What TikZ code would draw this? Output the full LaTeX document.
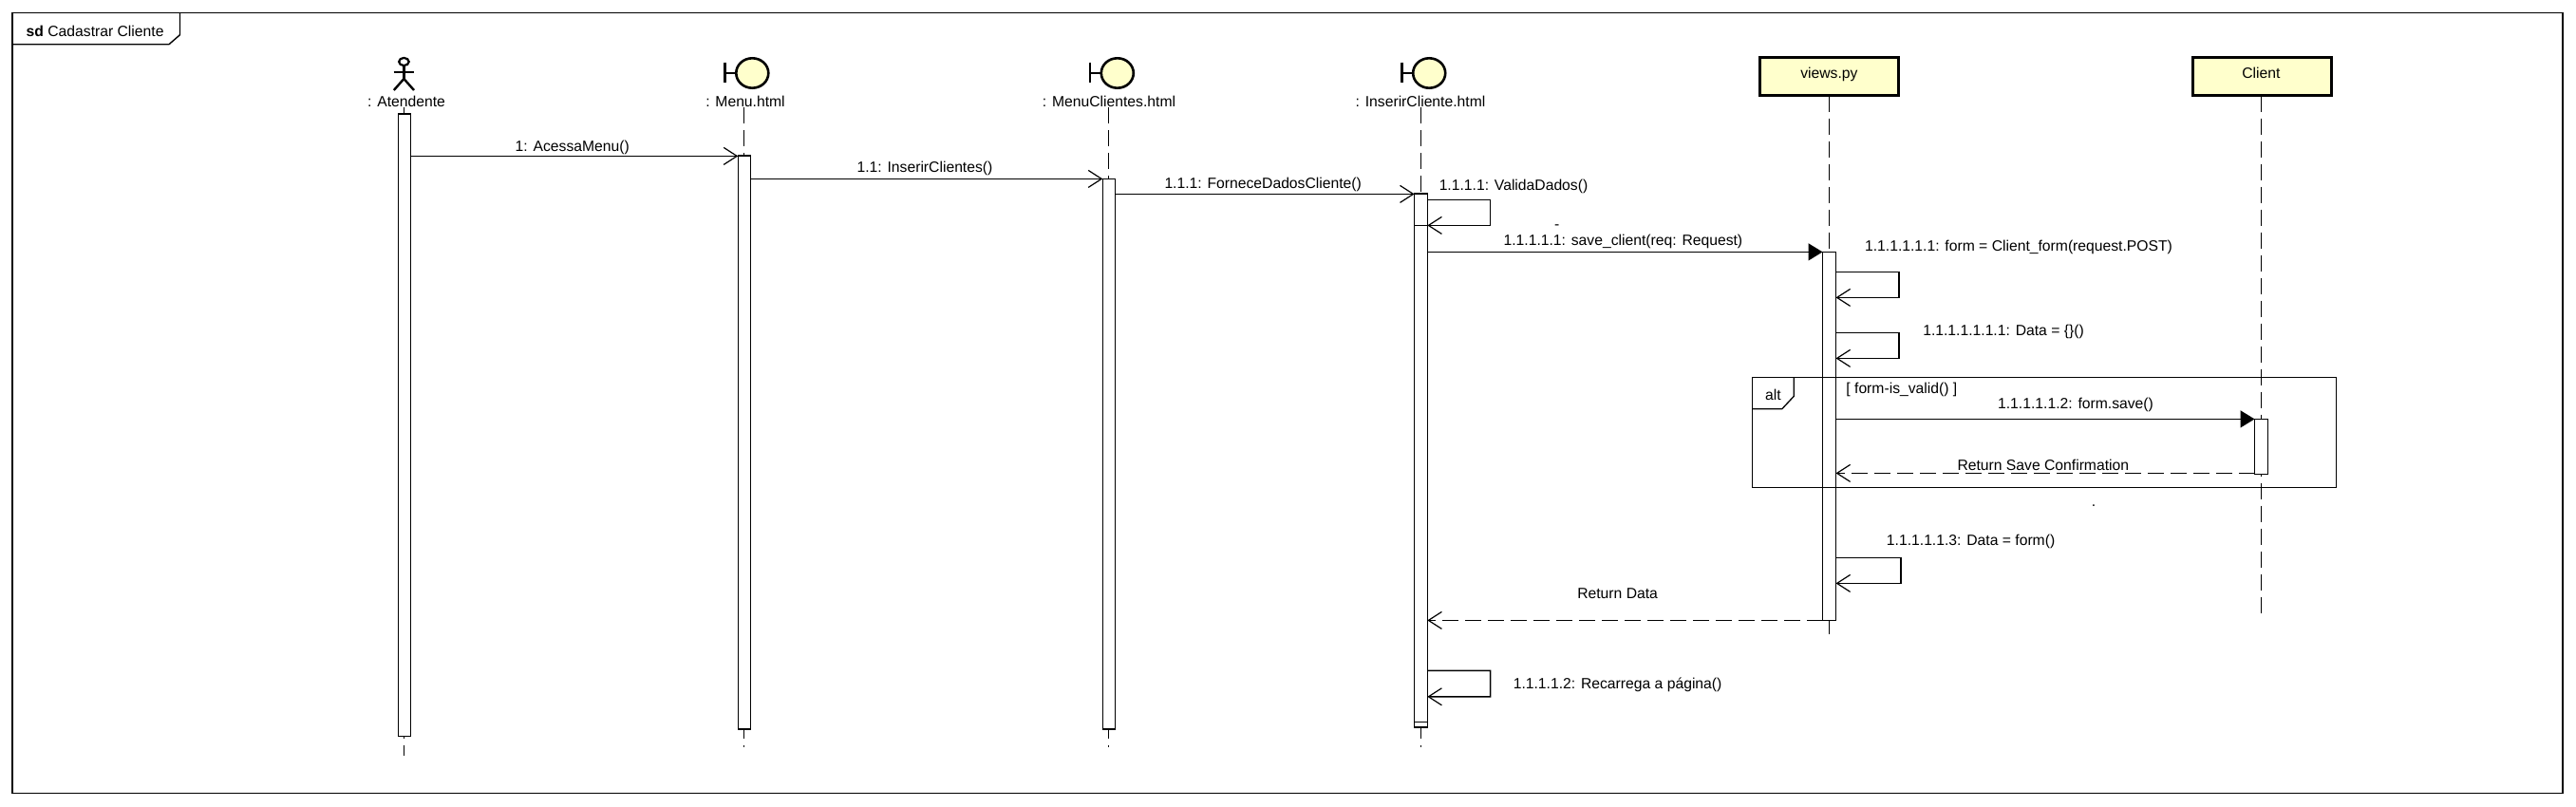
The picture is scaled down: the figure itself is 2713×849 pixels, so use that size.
\documentclass[tikz,border=0pt]{standalone}
\usepackage{fontspec}
\setmainfont{Liberation Sans}
\usetikzlibrary{arrows.meta,shapes.geometric}
\definecolor{uml}{HTML}{FFFFCC}
\tikzset{
  lbl/.style={inner sep=0pt,yshift=-1.2pt,font=\fontsize{15.7}{18}\selectfont,text=black},
  frameline/.style={draw=black,line width=1.4pt},
  life/.style={draw=black,line width=1.3pt,dash pattern=on 17pt off 7pt},
  barbox/.style={draw=black,fill=white,line width=1.4pt,inner sep=0pt,outer sep=0pt,rectangle},
  headbox/.style={draw=black,fill=uml,line width=3.2pt,inner sep=0pt,outer sep=0pt,rectangle,minimum width=146pt,minimum height=40pt},
  bcirc/.style={draw=black,fill=uml,line width=2.6pt,ellipse,inner sep=0pt,minimum width=34pt,minimum height=31.4pt,outer sep=0pt},
  bstem/.style={draw=black,line width=2.4pt},
  msg/.style={draw=black,line width=1.5pt,-{Straight Barb[length=14pt,width=18pt,line width=1.2pt]}},
  rmsg/.style={msg,dash pattern=on 17pt off 7pt},
  smsg/.style={draw=black,line width=1.5pt,-{Triangle[length=15pt,width=18pt,fill=black]}},
}
\newcommand{\actbar}[5]{\node[barbox,minimum width={#3-#2},minimum height={#5-#4}] (#1) at ({(#2+#3)/2},{(#4+#5)/2}) {};}
\newcommand{\boundary}[2]{%
  \node[bcirc] (c#1) at (#2+16.3,77) {};
  \draw[bstem] (c#1.west) -- ++(-11.8,0) coordinate (s#1);
  \draw[bstem] (s#1 |- 0,65.7) -- (s#1 |- 0,87.3);
}
\begin{document}
\begin{tikzpicture}[x=1pt,y=-1pt]
\useasboundingbox (0,0) rectangle (2713,849);
\fill[white] (0,0) rectangle (2713,849);

% outer frame
\draw[frameline] (13,13.7) rectangle (2699,835.5);
\draw[frameline] (13,46.7) -- (178,46.7) -- (189.5,36.7) -- (189.5,13.7);
\node[lbl,anchor=west] (title) at (27.5,32) {\textbf{sd} Cadastrar Cliente};

% actor
\node[draw=black,line width=2.2pt,ellipse,inner sep=0pt,minimum width=10.5pt,minimum height=8.1pt] (head) at (425.4,65) {};
\coordinate (hip) at (425.4,83);
\draw[bstem] (head.south) -- (hip);
\draw[bstem] (414.5,76) -- (436.3,76);
\draw[bstem] (414.8,95) -- (hip) -- (436,95);

% boundaries
\boundary{M}{776}
\boundary{C}{1160.5}
\boundary{I}{1488.9}

% heads
\node[headbox] (views) at (1926.7,80.5) {};
\node[headbox] (client) at (2382.1,80.5) {};

% names
\node[lbl] (nA) at (428,105.7) {: Atendente};
\node[lbl] (nM) at (785,105.7) {: Menu.html};
\node[lbl] (nC) at (1168,105.7) {: MenuClientes.html};
\node[lbl] (nI) at (1496,105.7) {: InserirCliente.html};
\node[lbl] (nV) at (1926.4,77.7) {views.py};
\node[lbl] (nL) at (2381.3,76) {Client};

% lifelines
\coordinate (tA) at (425.4,113);  \coordinate (eA) at (425.4,796);
\coordinate (tM) at (783.6,113);  \coordinate (eM) at (783.6,787);
\coordinate (tC) at (1167.4,113); \coordinate (eC) at (1167.4,787);
\coordinate (tI) at (1496.4,113); \coordinate (eI) at (1496.4,787);
\coordinate (eV) at (1926.4,668);
\coordinate (eL) at (2381.4,646);
\draw[life] (tA) -- (eA);
\draw[life] (tM) -- (eM);
\draw[life] (tC) -- (eC);
\draw[life] (tI) -- (eI);
\draw[life] (views.south -| eV) -- (eV);
\draw[life] (client.south -| eL) -- (eL);

% activation bars
\actbar{bA}{419.4}{432.6}{120}{775.7}
\actbar{bM}{777.3}{790.5}{164}{768}
\actbar{bC}{1161.3}{1174.6}{188.3}{768}
\actbar{bI}{1489.6}{1503.3}{204}{766}
\actbar{bJ}{1489.6}{1503.3}{237.3}{760.3}
\actbar{bV}{1919.5}{1933.5}{265.3}{653.3}
\actbar{bL}{2374.5}{2388.4}{441.3}{499.3}

% alt fragment
\draw[draw=black,line width=1.3pt] (1845.5,397.7) rectangle (2460.3,513.3);
\draw[draw=black,line width=1.3pt] (1845.5,430.7) -- (1876.8,430.7) -- (1889.3,417.3) -- (1889.3,397.7);
\node[lbl] (alt) at (1867.4,414.3) {alt};
\node[lbl,anchor=west] (guard) at (1944.2,409.3) {[ form-is\_valid() ]};

% messages
\draw[msg] (bA.east |- 0,164.4) -- (bM.west |- 0,164.4);
\node[lbl] (m1) at (602.8,154) {1: AcessaMenu()};
\draw[msg] (bM.east |- 0,188.4) -- (bC.west |- 0,188.4);
\node[lbl] (m2) at (974,176.5) {1.1: InserirClientes()};
\draw[msg] (bC.east |- 0,204.4) -- (bI.west |- 0,204.4);
\node[lbl] (m3) at (1330.2,193.3) {1.1.1: ForneceDadosCliente()};

\draw[msg] (bI.east |- 0,210.4) -- ++(66.3,0) -- ++(0,27) -- (bI.east |- 0,237.4);
\node[lbl] (m4) at (1594,195.7) {1.1.1.1: ValidaDados()};
\node[lbl] (d1) at (1639.6,237.8) {-};

\draw[smsg] (bI.east |- 0,265.4) -- (bV.west |- 0,265.4);
\node[lbl] (m5) at (1709.4,253.3) {1.1.1.1.1: save\_client(req: Request)};

\draw[msg] (bV.east |- 0,286.4) -- ++(66.3,0) -- ++(0,27) -- (bV.east |- 0,313.4);
\node[lbl] (m6) at (2126,259.3) {1.1.1.1.1.1: form = Client\_form(request.POST)};

\draw[msg] (bV.east |- 0,350.4) -- ++(66.3,0) -- ++(0,27) -- (bV.east |- 0,377.4);
\node[lbl] (m7) at (2110,348.7) {1.1.1.1.1.1.1: Data = \{\}()};

\draw[smsg] (bV.east |- 0,441.4) -- (bL.west |- 0,441.4);
\node[lbl] (m8) at (2186,425) {1.1.1.1.1.2: form.save()};

\draw[rmsg] (bL.west |- 0,498.4) -- (bV.east |- 0,498.4);
\node[lbl] (m9) at (2151.8,488.3) {Return Save Confirmation};

\node[lbl] (d2) at (2205,531.1) {.};

\draw[msg] (bV.east |- 0,587.4) -- ++(68.3,0) -- ++(0,27) -- (bV.east |- 0,614.4);
\node[lbl] (m10) at (2075.6,569.3) {1.1.1.1.1.3: Data = form()};

\draw[rmsg] (bV.west |- 0,653.4) -- (bI.east |- 0,653.4);
\node[lbl] (m11) at (1703.6,624.3) {Return Data};

\draw[msg] (bI.east |- 0,706.4) -- ++(66.3,0) -- ++(0,27.4) -- (bI.east |- 0,733.8);
\node[lbl] (m12) at (1703.6,720) {1.1.1.1.2: Recarrega a página()};
\end{tikzpicture}
\end{document}
